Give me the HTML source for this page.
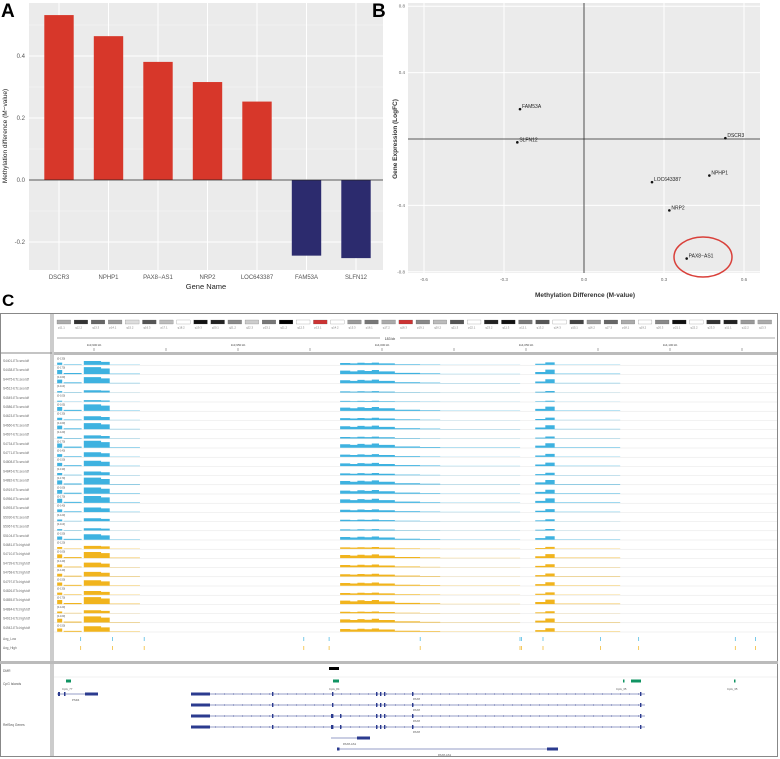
<!DOCTYPE html>
<html><head><meta charset="utf-8"><style>
html,body{margin:0;padding:0;background:#fff;}
svg{display:block;font-family:"Liberation Sans",sans-serif;}
</style></head><body>
<svg id="fig" width="780" height="759" viewBox="0 0 780 759" xmlns="http://www.w3.org/2000/svg">
<g id="panelA">
 <text x="1" y="17" font-size="19" font-weight="bold">A</text>
 <rect x="29" y="3" width="354" height="267" fill="#ebebeb"/>
 <g id="aGrid"></g><g id="aBars"></g><g id="aAxes"></g>
 <text x="206" y="289" font-size="7.5" text-anchor="middle" fill="#222">Gene Name</text>
 <text transform="translate(7,136) rotate(-90)" font-size="6.5" text-anchor="middle" fill="#222">Methylation difference (M−value)</text>
</g>
<g id="panelB">
 <text x="372" y="17" font-size="19" font-weight="bold">B</text>
 <rect x="408" y="3" width="352" height="270" fill="#ebebeb"/>
 <g id="bGrid"></g><g id="bPts"></g>
 <ellipse cx="703" cy="257" rx="29" ry="20" fill="none" stroke="#d9403a" stroke-width="1.5"/>
 <text x="585" y="297" font-size="6.5" font-weight="bold" text-anchor="middle" fill="#333">Methylation Difference (M-value)</text>
 <text transform="translate(397,139) rotate(-90)" font-size="6.5" font-weight="bold" text-anchor="middle" fill="#333">Gene Expression (LogFC)</text>
</g>
<g id="panelC">
 <text x="2" y="306" font-size="17" font-weight="bold">C</text>
 <rect x="0.5" y="313.5" width="777" height="443" fill="#fff" stroke="#888"/>
 <rect x="50" y="314" width="4" height="442" fill="#ccc"/>
 <line x1="0" y1="353" x2="52" y2="353" stroke="#888"/>
 <rect x="54" y="352" width="723" height="3" fill="#bbb"/>
 <g id="ideo"></g><g id="ruler"></g><g id="tracks"></g>
 <rect x="0" y="661" width="778" height="3" fill="#bbb"/>
 <g id="annot"></g>
</g>
</svg>
<script>
const aGenes = ["DSCR3","NPHP1","PAX8−AS1","NRP2","LOC643387","FAM53A","SLFN12"];
const aValues = [0.532,0.464,0.381,0.316,0.253,-0.244,-0.252];
const aTicks = [-0.2,0,0.2,0.4];
const aTickLabels = ["-0.2","0.0","0.2","0.4"];
const bGenes = ["FAM53A","SLFN12","DSCR3","NPHP1","LOC643387","NRP2","PAX8−AS1"];
const bMeth = [-0.24,-0.25,0.53,0.47,0.255,0.32,0.385];
const bExpr = [0.18,-0.02,0.005,-0.22,-0.26,-0.43,-0.72];
const bXTicks = [-0.6,-0.3,0,0.3,0.6];
const bXTickLabels = ["-0.6","-0.3","0.0","0.3","0.6"];
const bYTicks = [-0.8,-0.4,0,0.4,0.8];
const bYTickLabels = ["-0.8","-0.4","","0.4","0.8"];
const covSegStart = [3,12,40,64,76,396,410,420,430,440,450,472,507,535,667,681,694];
const covSegEnd   = [10,37,64,76,118,410,420,430,440,450,472,507,535,646,681,694,785];
const covSegLevel = [0.6,0.15,1.0,0.8,0.07,0.5,0.4,0.55,0.45,0.6,0.4,0.18,0.1,0.04,0.3,0.65,0.07];
const blueScale = [0.5,0.9,0.8,0.3,0.2,0.85,0.5,0.8,0.4,0.9,0.6,0.7,0.5,0.9,0.8,0.9,0.6,0.4,0.3,0.7];
const yellowScale = [0.4,0.8,0.6,0.6,0.7,0.5,0.9,0.4,0.8,0.7];
const rulerLabels = ["113,900 kb","113,950 kb","114,000 kb","114,050 kb","114,100 kb"];
const ideoBandColors = ["#aaa","#333","#666","#999","#ddd","#555","#bbb","#fff","#111","#222","#888","#ccc","#777","#000","#fff","#c33","#fff","#999","#777","#aaa","#c33","#888","#bbb","#555","#fff","#222","#111","#777","#555","#fff","#444","#999","#666","#aaa","#fff","#888","#111","#fff","#333","#222","#999","#aaa"];

const NS="http://www.w3.org/2000/svg";
function mk(parent,tag,attrs){const e=document.createElementNS(NS,tag);for(const k in attrs)e.setAttribute(k,attrs[k]);parent.appendChild(e);return e;}

const ay=v=>180-v*310, ax=i=>59+i*49.5;
const aGrid=document.getElementById('aGrid'), aBars=document.getElementById('aBars'), aAxes=document.getElementById('aAxes');
[-0.1,0.1,0.3,0.5].forEach(t=>{const l=mk(aGrid,'line',{x1:29,x2:383,y1:ay(t),y2:ay(t),stroke:'#f6f6f6','stroke-width':0.5});

});
aTicks.forEach((t,i)=>{const l=mk(aGrid,'line',{x1:29,x2:383,y1:ay(t),y2:ay(t),stroke:'#fff','stroke-width':1});


const tx=mk(aAxes,'text',{x:25,y:ay(t)+2,'font-size':6,'text-anchor':'end',fill:'#555'});tx.textContent=aTickLabels[i];

});
aGenes.forEach((g,i)=>{const l=mk(aGrid,'line',{x1:ax(i),x2:ax(i),y1:3,y2:270,stroke:'#fff','stroke-width':1});


const v=aValues[i];const r=mk(aBars,'rect',{x:ax(i)-14.7,width:29.4,y:Math.min(ay(v),ay(0)),height:Math.abs(ay(v)-ay(0)),fill:v>=0?'#d7372a':'#2c2b6e'});


const tx=mk(aAxes,'text',{x:ax(i),y:279,'font-size':6,'text-anchor':'middle',fill:'#555'});tx.textContent=g;

});
const z=mk(aAxes,'line',{x1:29,x2:383,y1:ay(0),y2:ay(0),stroke:'#222','stroke-width':0.8});



const bx=v=>584+v*266.7, by=v=>139-v*166;
const bGrid=document.getElementById('bGrid'), bPts=document.getElementById('bPts');
bXTicks.forEach((t,i)=>{const l=mk(bGrid,'line',{x1:bx(t),x2:bx(t),y1:3,y2:273,stroke:'#fff','stroke-width':1});


const tx=mk(bGrid,'text',{x:bx(t),y:281,'font-size':4.5,'text-anchor':'middle',fill:'#666'});tx.textContent=bXTickLabels[i];

});
bYTicks.forEach((t,i)=>{const l=mk(bGrid,'line',{x1:408,x2:760,y1:by(t),y2:by(t),stroke:'#fff','stroke-width':1});


const tx=mk(bGrid,'text',{x:405,y:by(t)+1.5,'font-size':4.5,'text-anchor':'end',fill:'#666'});tx.textContent=bYTickLabels[i];

});
const vz=mk(bGrid,'line',{x1:bx(0),x2:bx(0),y1:3,y2:273,stroke:'#222','stroke-width':0.8});


const hz=mk(bGrid,'line',{x1:408,x2:760,y1:by(0),y2:by(0),stroke:'#222','stroke-width':0.8});


bGenes.forEach((g,i)=>{const c=mk(bPts,'circle',{cx:bx(bMeth[i]),cy:by(bExpr[i]),r:1.3,fill:'#111'});


const tx=mk(bPts,'text',{x:bx(bMeth[i])+2,y:by(bExpr[i])-1,'font-size':5,fill:'#222'});tx.textContent=g;

});

const gx=g=>55+g*0.72;
const ideo=document.getElementById('ideo');
const bw=718/ideoBandColors.length;
ideoBandColors.forEach((c,i)=>{const r=mk(ideo,'rect',{x:57+i*bw,y:320,width:bw*0.8,height:4,fill:c,stroke:'#555','stroke-width':0.2});


const t=mk(ideo,'text',{x:57+i*bw+1,y:328.5,'font-size':2.8,fill:'#777'});t.textContent=(i%3? 'q':'p')+(11+i%13)+'.'+(1+i%3);

});
const ruler=document.getElementById('ruler');
let rl=mk(ruler,'line',{x1:57,x2:775,y1:338,y2:338,stroke:'#555','stroke-width':0.5});


let rb=mk(ruler,'rect',{x:380,y:335,width:20,height:6,fill:'#fff'});


let rt=mk(ruler,'text',{x:390,y:340,'font-size':3.5,'text-anchor':'middle',fill:'#333'});rt.textContent='183 kb';


for(let i=0;i<10;i++){const x=94+i*72;const l=mk(ruler,'line',{x1:x,x2:x,y1:348,y2:351,stroke:'#555','stroke-width':0.5});


if(i%2===0){const t=mk(ruler,'text',{x:x,y:346,'font-size':3,'text-anchor':'middle',fill:'#444'});t.textContent=rulerLabels[i/2];

}}
const tracks=document.getElementById('tracks');
const rowH=9.2;
function covPath(top,scale){const base=top+rowH-0.3;let d='';covSegStart.forEach((s,i)=>{const y=base-covSegLevel[i]*scale*(rowH-1.5);d+='M'+gx(s)+','+base+' L'+gx(s)+','+y+' L'+gx(covSegEnd[i])+','+y+' L'+gx(covSegEnd[i])+','+base+' Z ';});return d;}
const allScales=blueScale.concat(yellowScale);
allScales.forEach((s,i)=>{const top=356+i*rowH;const blue=i<blueScale.length;
const sep=mk(tracks,'line',{x1:54,x2:777,y1:top+rowH,y2:top+rowH,stroke:'#e4e4e4','stroke-width':0.5});


const lab=mk(tracks,'text',{x:3,y:top+6,'font-size':3.2,fill:'#666'});lab.textContent=(blue?'S'+(4401+i*37)+'-ETc.seo.tdf':'S'+(4101+i*29)+'-ETc.high.tdf');


const p=mk(tracks,'path',{d:covPath(top,s),fill:blue?'#3eb2e0':'#f1b41d'});


const r=mk(tracks,'text',{x:57,y:top+3.5,'font-size':2.6,fill:'#555'});r.textContent='[0-'+Math.round(80+s*100)+']';

});
const smallTop=356+allScales.length*rowH+2;
const tickGs=[45,114,183,530,585,783,1000,1003,1050,1175,1258,1468,1512];
['Avg_Low','Avg_High'].forEach((n,k)=>{const top=smallTop+k*9;const lab=mk(tracks,'text',{x:3,y:top+6,'font-size':3.2,fill:'#666'});lab.textContent=n;


tickGs.forEach(g=>{const x=60+g*0.46;const l=mk(tracks,'line',{x1:x,x2:x,y1:top+3,y2:top+7,stroke:k?'#f1b41d':'#3eb2e0','stroke-width':0.7});

});});
const annot=document.getElementById('annot');
function box(x,y,w,h,fill,name){const r=mk(annot,'rect',{x:x,y:y,width:w,height:h,fill:fill});

}
function lbl(x,y,t,name,sz){const e=mk(annot,'text',{x:x,y:y,'font-size':sz||3.3,fill:'#555'});e.textContent=t;

}
lbl(3,672,'DMR','dmr-track-name');lbl(3,685,'CpG Islands','cpg-track-name');lbl(3,726,'RefSeq Genes','refseq-track-name');
const al=mk(annot,'line',{x1:54,x2:777,y1:677,y2:677,stroke:'#e4e4e4','stroke-width':0.5});


box(329,667,10,3,'#000','dmr-region');
[[66,5],[333,6],[623,1.5],[631,10],[734,1.5]].forEach(c=>box(c[0],679.5,c[1],3,'#119463','cpg-island'));
lbl(62,690,'CpG_77','cpg-label',2.8);lbl(329,690,'CpG_84','cpg-label',2.8);lbl(616,690,'CpG_35','cpg-label',2.8);lbl(727,690,'CpG_35','cpg-label',2.8);
let gl=mk(annot,'line',{x1:57,x2:97,y1:694,y2:694,stroke:'#2b3b8f','stroke-width':0.6});


box(58,692,2,4,'#2b3b8f','exon');box(64,692,1.5,4,'#2b3b8f','exon');box(85,692.5,13,3,'#2b3b8f','exon');
lbl(72,701,'PSD4','gene-label',2.8);
[694,705,716,727].forEach((y,k)=>{const l=mk(annot,'line',{x1:191,x2:645,y1:y,y2:y,stroke:'#2b3b8f','stroke-width':0.6});


box(191,y-1.5,19,3,'#2b3b8f','exon');
for(let x=215;x<640;x+=9){box(x,y-0.5,0.8,1,'#2b3b8f','intron-marker');}
[272,332,376,380,384,412,640].forEach(x=>box(x,y-2,1.4,4,'#2b3b8f','exon'));
if(k>=2){box(331,y-2,1.4,4,'#2b3b8f','exon');box(340,y-2,1.4,4,'#2b3b8f','exon');}
lbl(413,y+6,'PAX8','gene-label',2.8);});
let l1=mk(annot,'line',{x1:331,x2:370,y1:738,y2:738,stroke:'#2b3b8f','stroke-width':0.6});


box(357,736.5,13,3,'#2b3b8f','exon');lbl(343,745,'PAX8-AS1','gene-label',2.8);
let l2=mk(annot,'line',{x1:338,x2:558,y1:749,y2:749,stroke:'#2b3b8f','stroke-width':0.6});


box(337,747.5,2.5,3,'#2b3b8f','exon');box(547,747.5,11,3,'#2b3b8f','exon');
lbl(438,756,'PAX8-AS1','gene-label',2.8);
</script>
</body></html>
